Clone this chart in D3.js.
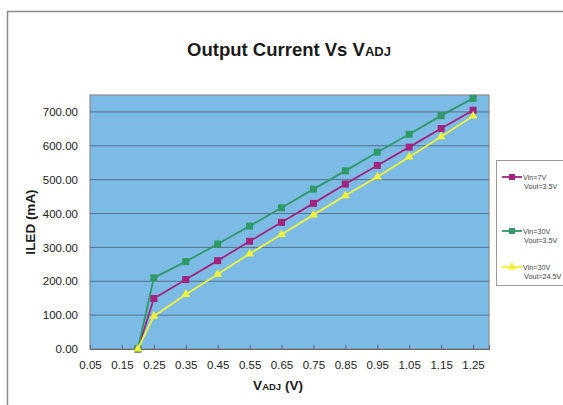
<!DOCTYPE html>
<html>
<head>
<meta charset="utf-8">
<script src="https://cdn.jsdelivr.net/npm/d3@7"></script>
<style>
  html, body { margin: 0; padding: 0; background: #fff; }
  svg { display: block; font-family: "Liberation Sans", Arial, sans-serif; }
</style>
</head>
<body>
<svg id="chart" width="563" height="405"></svg>
<script>
// data
const vadj = [0.20, 0.25, 0.35, 0.45, 0.55, 0.65, 0.75, 0.85, 0.95, 1.05, 1.15, 1.25]
const vin7 = [0, 149, 205, 261, 318, 374, 430, 487, 542, 596, 651, 705]
const vin30 = [0, 210, 258, 310, 363, 417, 472, 526, 581, 634, 689, 740]
const vin30hi = [0, 97, 161, 221, 281, 338, 396, 453, 508, 567, 627, 688]
const xTicks = [0.05, 0.15, 0.25, 0.35, 0.45, 0.55, 0.65, 0.75, 0.85, 0.95, 1.05, 1.15, 1.25]
const yTicks = [0, 100, 200, 300, 400, 500, 600, 700]

const series = [
    { name1: "Vin=7V", name2: "Vout=3.5V", values: vin7, color: "#a3237e", marker: "square" },
    { name1: "Vin=30V", name2: "Vout=3.5V", values: vin30, color: "#2f9a66", marker: "square" },
    { name1: "Vin=30V", name2: "Vout=24.5V", values: vin30hi, color: "#f2f23a", marker: "triangle" }
]

const svg = d3.select("#chart")

// outer chart frame
svg.append("rect")
    .attr("x", 7.5).attr("y", 11.5)
    .attr("width", 600).attr("height", 420)
    .attr("fill", "none")
    .attr("stroke", "#8a8a8a")
    .attr("stroke-width", 1.5)

const plot = { left: 90, top: 95, right: 489, bottom: 349 }

const x = d3.scaleLinear().domain([0.05, 1.3]).range([plot.left, plot.right])
const y = d3.scaleLinear().domain([0, 750]).range([plot.bottom, plot.top])

// plot area
svg.append("rect")
    .attr("x", plot.left).attr("y", plot.top)
    .attr("width", plot.right - plot.left).attr("height", plot.bottom - plot.top)
    .attr("fill", "#7bbbe5")
    .attr("stroke", "#8c8c8c")
    .attr("stroke-width", 1.2)

// gridlines
svg.append("g")
    .selectAll("line")
    .data(yTicks.filter(d => d > 0))
    .enter().append("line")
    .attr("x1", plot.left).attr("x2", plot.right)
    .attr("y1", d => y(d)).attr("y2", d => y(d))
    .attr("stroke", "#55708c")
    .attr("stroke-width", 1)

// y axis
const yAxis = svg.append("g")
    .attr("transform", `translate(${plot.left},0)`)
    .call(d3.axisLeft(y).tickValues(yTicks).tickFormat(d3.format(".2f")).tickSize(0).tickPadding(12))
yAxis.select(".domain").remove()
yAxis.selectAll("text").attr("font-size", 11.5).attr("fill", "#222")
    .attr("font-family", "Liberation Sans, Arial, sans-serif")

// x axis
const xAxis = svg.append("g")
    .attr("transform", `translate(0,${plot.bottom})`)
    .call(d3.axisBottom(x).tickValues(xTicks).tickFormat(d3.format(".2f")).tickSize(-4).tickPadding(12))
xAxis.select(".domain").attr("stroke", "#666")
xAxis.selectAll(".tick line").attr("stroke", "#666")
xAxis.selectAll("text").attr("font-size", 11.5).attr("fill", "#222")
    .attr("font-family", "Liberation Sans, Arial, sans-serif")

const line = d3.line()
    .x((d, i) => x(vadj[i]))
    .y(d => y(d))

const tri = d3.symbol().type(d3.symbolTriangle).size(34)

function drawMarker(g, s, cx, cy, size) {
    if (s.marker === "square") {
        g.append("rect")
            .attr("x", cx - size / 2).attr("y", cy - size / 2)
            .attr("width", size).attr("height", size)
            .attr("fill", s.color)
    } else {
        g.append("path")
            .attr("d", tri)
            .attr("transform", `translate(${cx},${cy})`)
            .attr("fill", s.color)
    }
}

series.forEach(s => {
    const g = svg.append("g")
    g.append("path")
        .datum(s.values)
        .attr("d", line)
        .attr("fill", "none")
        .attr("stroke", s.color)
        .attr("stroke-width", 1.8)
    s.values.forEach((v, i) => drawMarker(g, s, x(vadj[i]), y(v), 7))
})

// title
const title = svg.append("text")
    .attr("x", 289).attr("y", 56)
    .attr("text-anchor", "middle")
    .attr("font-size", 18.5)
    .attr("font-weight", "bold")
    .attr("fill", "#1a1a1a")
title.append("tspan").text("Output Current Vs V")
title.append("tspan").attr("font-size", 13).text("ADJ")

// axis titles
const xt = svg.append("text")
    .attr("x", 278).attr("y", 390)
    .attr("text-anchor", "middle")
    .attr("font-size", 13.5)
    .attr("font-weight", "bold")
    .attr("fill", "#1a1a1a")
xt.append("tspan").text("V")
xt.append("tspan").attr("font-size", 9.5).text("ADJ")
xt.append("tspan").text(" (V)")

svg.append("text")
    .attr("transform", `translate(35,${(plot.top + plot.bottom) / 2}) rotate(-90)`)
    .attr("text-anchor", "middle")
    .attr("font-size", 13.5)
    .attr("font-weight", "bold")
    .attr("fill", "#1a1a1a")
    .text("ILED (mA)")

// legend
const legend = svg.append("g")
legend.append("rect")
    .attr("x", 496.5).attr("y", 160.5)
    .attr("width", 80).attr("height", 125)
    .attr("fill", "#fff")
    .attr("stroke", "#9a9a9a")
    .attr("stroke-width", 1)

const legendY = [177, 231, 267]
series.forEach((s, i) => {
    const ly = legendY[i]
    const g = legend.append("g")
    g.append("line")
        .attr("x1", 502).attr("x2", 522)
        .attr("y1", ly).attr("y2", ly)
        .attr("stroke", s.color)
        .attr("stroke-width", 1.8)
    drawMarker(g, s, 512, ly, 6)
    g.append("text")
        .attr("x", 523).attr("y", ly + 2.5)
        .attr("font-size", 7.2).attr("fill", "#444")
        .text(s.name1)
    g.append("text")
        .attr("x", 524).attr("y", ly + 11.5)
        .attr("font-size", 7.2).attr("fill", "#444")
        .text(s.name2)
})
</script>
</body>
</html>
